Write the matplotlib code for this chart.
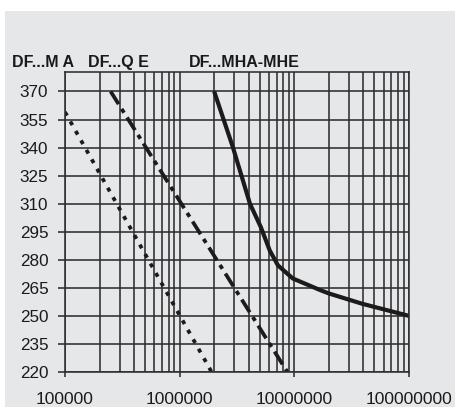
import matplotlib
matplotlib.use("Agg")
import matplotlib.pyplot as plt
from matplotlib.patches import Rectangle
from matplotlib.ticker import LogLocator, NullFormatter

# curves
ma_x = [1.0e5, 1.9e6]
ma_y = [359, 220]

qe_x = [2.5e5, 8.7e6]
qe_y = [370, 220]

mha_x = [2.0e6, 2.9e6, 4.1e6, 5.1e6, 6.1e6, 7.2e6, 9.7e6, 1.65e7, 2.0e7, 3.9e7, 1.0e8]
mha_y = [370, 340.5, 310, 297.5, 285, 277, 270, 264, 262, 256.5, 250]

yticks = list(range(220, 371, 15))
xticks = [1e5, 1e6, 1e7, 1e8]
xlabels = ["100000", "1000000", "10000000", "100000000"]
series_labels = ["DF...M A", "DF...Q E", "DF...MHA-MHE"]

bg = "#e6e7e8"
ink = "#1c1a1a"
grid = "#2e2e2e"

plt.rcParams['font.family'] = ['Liberation Sans', 'DejaVu Sans']

fig = plt.figure(figsize=(4.56, 4.07), dpi=100)
fig.patch.set_facecolor("white")
fig.patches.append(Rectangle((5 / 456, -0.05), 1.1, 396 / 407 + 0.05, transform=fig.transFigure,
                             facecolor=bg, edgecolor="none", zorder=-5))

ax = fig.add_axes([65 / 456, 1 - 372 / 407, 344 / 456, 300 / 407])
ax.set_facecolor(bg)
ax.set_xscale("log")
ax.set_xlim(1e5, 1e8)
ax.set_ylim(220, 380.4)

ax.set_yticks(yticks)
ax.set_xticks(xticks)
ax.set_xticklabels(xlabels)
ax.xaxis.set_minor_locator(LogLocator(base=10, subs=range(2, 10)))
ax.xaxis.set_minor_formatter(NullFormatter())

ax.grid(True, which="both", axis="x", color=grid, lw=1.15)
ax.grid(True, which="major", axis="y", color=grid, lw=1.15)
ax.tick_params(axis="y", which="major", length=5, width=1.15, color=grid,
               pad=7, labelsize=12.3, labelcolor="#1a1a1a")
ax.tick_params(axis="x", which="major", length=3.6, width=1.15, color=grid,
               pad=11, labelsize=12.5, labelcolor="#1a1a1a")
ax.tick_params(axis="x", which="minor", length=0)
for s in ax.spines.values():
    s.set_color(grid)
    s.set_linewidth(1.15)

ax.plot(ma_x, ma_y, color=ink, lw=2.7, dashes=(1.1, 1.8), dash_capstyle="butt")
ax.plot(qe_x, qe_y, color=ink, lw=2.7, dashes=(4.0, 1.5, 1.2, 1.5), dash_capstyle="butt")
ax.plot(mha_x, mha_y, color=ink, lw=3.0, solid_joinstyle="round", solid_capstyle="butt")

label_x = [12 / 456, 88 / 456, 189 / 456]
for lx, t in zip(label_x, series_labels):
    fig.text(lx, 1 - 66.7 / 407, t, fontsize=11.5, fontweight="bold",
             color="#1a1a1a", va="baseline", ha="left")

fig.savefig("out.png", dpi=100, facecolor=fig.get_facecolor())
